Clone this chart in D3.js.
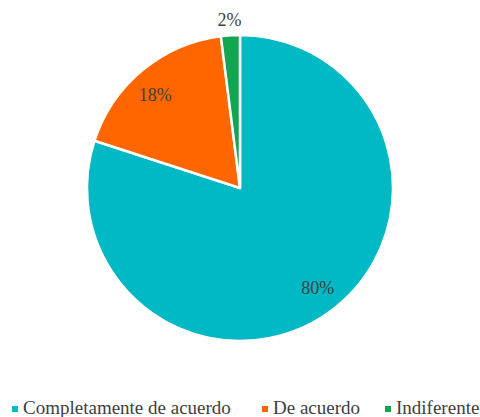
<!DOCTYPE html>
<html><head><meta charset="utf-8">
<script src="https://cdn.jsdelivr.net/npm/d3@7"></script>
</head><body style="margin:0">
<script>
const categories = ["Completamente de acuerdo", "De acuerdo", "Indiferente"];
const values = [80, 18, 2];
const labels = ["80%", "18%", "2%"];
const colors = ["#00B9C4", "#FF6600", "#14A550"];

const W = 480, H = 417;
const cx = 240, cy = 188, R = 153;
const FONT = '"Liberation Serif"';
const svg = d3.select("body").append("svg").attr("width", W).attr("height", H).style("display", "block");
const g = svg.append("g").attr("transform", `translate(${cx},${cy})`);

const pie = d3.pie().sort(null).value(d => d)(values);
const arc = d3.arc().innerRadius(0).outerRadius(R);
g.selectAll("path").data(pie).enter().append("path")
  .attr("d", arc).attr("fill", (d, i) => colors[i])
  .attr("stroke", "#fff").attr("stroke-width", 2.5).attr("stroke-linejoin", "round");

const lblR = [0.83 * R, 0.82 * R, 1.1 * R];
const lblShift = [-0.03, -0.05, 0];
g.selectAll("text.lbl").data(pie).enter().append("text")
  .attr("class", "lbl")
  .attr("x", (d, i) => Math.sin((d.startAngle + d.endAngle) / 2 + lblShift[i]) * lblR[i])
  .attr("y", (d, i) => -Math.cos((d.startAngle + d.endAngle) / 2 + lblShift[i]) * lblR[i] + 6)
  .attr("text-anchor", "middle")
  .style("font-family", FONT).attr("font-size", 18)
  .attr("fill", "#404040").text((d, i) => labels[i]);

const legX = [12, 262, 385];
const leg = svg.append("g");
categories.forEach((c, i) => {
  leg.append("rect").attr("x", legX[i]).attr("y", 406).attr("width", 6).attr("height", 6).attr("fill", colors[i]);
  leg.append("text").attr("x", legX[i] + 11).attr("y", 414)
    .style("font-family", FONT).attr("font-size", 19)
    .attr("fill", "#404040").text(c);
});
</script>
</body></html>
